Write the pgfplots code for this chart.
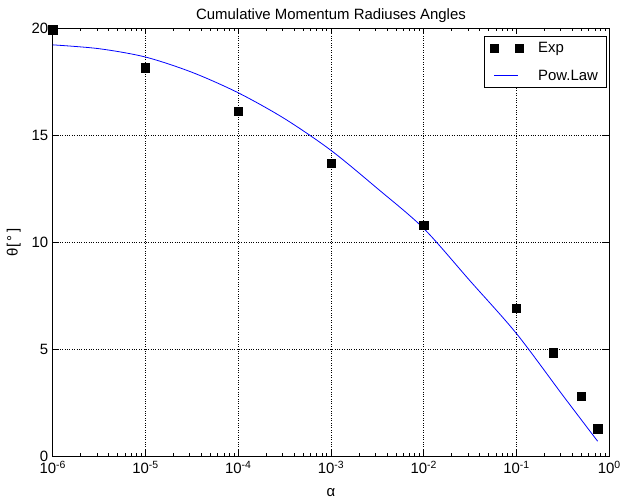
\documentclass[border=0pt]{standalone}
\usepackage{fontspec}
\setmainfont{Liberation Sans}
\usepackage{pgfplots}
\pgfplotsset{compat=1.18}
\begin{document}
\begin{tikzpicture}[x=1pt,y=1pt]
\begin{axis}[
  at={(0,0)}, anchor=south west,
  scale only axis,
  width=559pt, height=430pt,
  xmode=log,
  xmin=1e-6, xmax=1,
  ymin=0, ymax=20,
  xtick={1e-6,1e-5,1e-4,1e-3,1e-2,1e-1,1},
  xticklabels={10\textsuperscript{-6},10\textsuperscript{-5},10\textsuperscript{-4},10\textsuperscript{-3},10\textsuperscript{-2},10\textsuperscript{-1},10\textsuperscript{0}},
  ytick={0,5,10,15,20},
  /pgf/number format/assume math mode=true,
  tick label style={font=\fontsize{15}{17}\selectfont},
  xticklabel style={yshift=-1pt},
  yticklabel style={xshift=-1pt},
  label style={font=\fontsize{15}{17}\selectfont},
  title style={font=\fontsize{15}{17}\selectfont, yshift=-4pt},
  title={Cumulative Momentum Radiuses Angles},
  xlabel={α},
  ylabel={θ[\,°\,]},
  xlabel style={yshift=-8pt},
  ylabel style={yshift=4pt},
  grid=major,
  major grid style={black, dotted, line width=0.6pt},
  tick style={black, line width=0.6pt},
  major tick length=6pt,
  minor tick length=3pt,
  axis line style={black, line width=0.9pt},
  tick align=inside,
  legend style={at={(1,1)}, anchor=north east, xshift=-3pt, yshift=-7.5pt,
    draw=black, line width=0.6pt, font=\fontsize{15}{17}\selectfont,
    inner xsep=6pt, inner ysep=4pt, row sep=12pt, column sep=13pt},
  legend cell align=left,
]
\addplot[only marks, mark=square*, mark size=4.2pt, color=black,
  legend image code/.code={\draw[mark=square*, mark size=4pt, black, mark options={fill=black}] plot coordinates {(0pt,0pt)(25pt,0pt)};}]
  coordinates {
  (1e-6,19.93) (1e-5,18.17) (1e-4,16.13) (1e-3,13.71) (1e-2,10.81)
  (0.1,6.94) (0.25,4.84) (0.5,2.82) (0.75,1.30)
  };
\addlegendentry{Exp}
\addplot[blue, line width=0.8pt, smooth, no marks,
  legend image code/.code={\draw[blue, line width=0.8pt] (0pt,0pt) -- (24pt,0pt);}]
  coordinates {
  (1e-6,19.23) (3.162e-6,19.05) (1e-5,18.66) (3.162e-5,17.95) (1e-4,16.99)
  (3.162e-4,15.78) (1e-3,14.30) (3.162e-3,12.52) (1e-2,10.65)
  (3.162e-2,8.2) (0.1,5.74) (0.3162,2.85) (0.75,0.71)
  };
\addlegendentry{Pow.Law}
\end{axis}
\path (-53pt,-41.5pt) rectangle (571pt,458.5pt);
\end{tikzpicture}
\end{document}
